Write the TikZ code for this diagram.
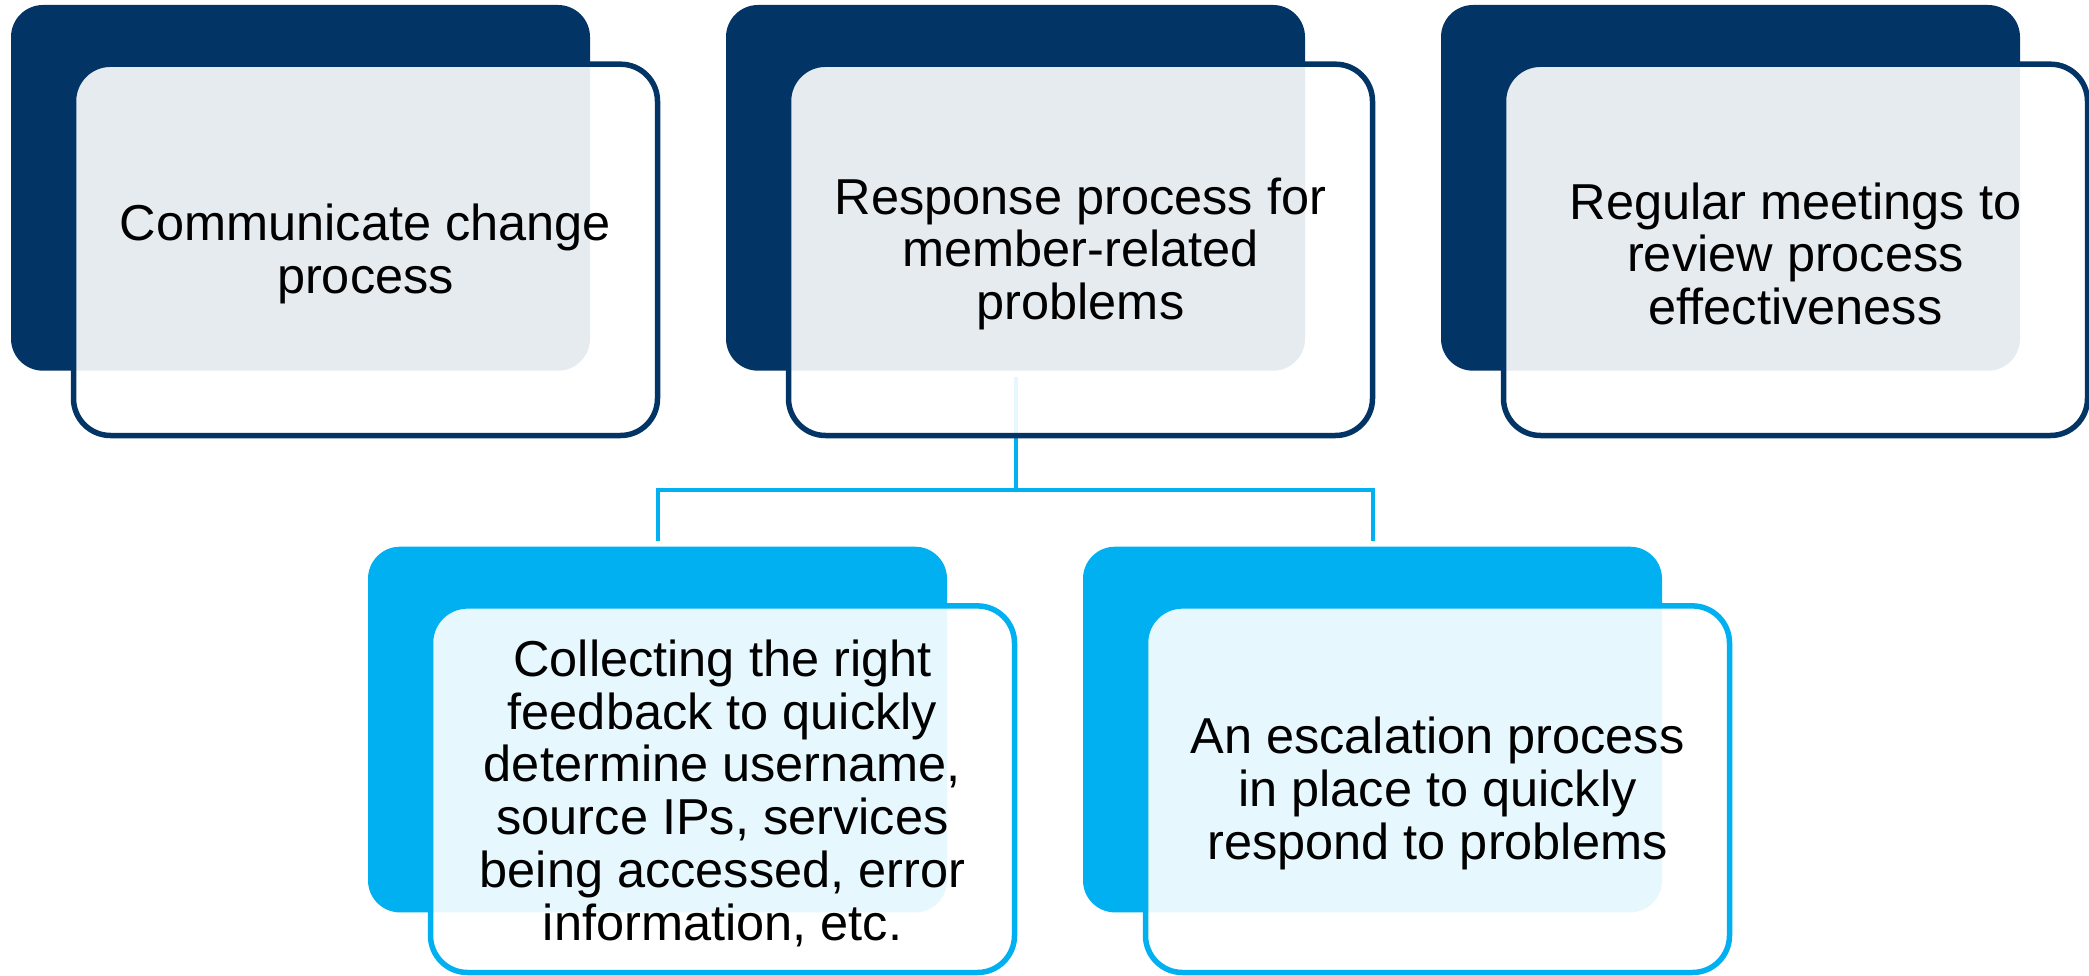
\documentclass[tikz,border=0pt]{standalone}
\usepackage{fontspec}
\setmainfont{Liberation Sans}
\definecolor{navy}{RGB}{3,52,102}
\definecolor{sky}{RGB}{0,176,240}
\tikzset{
  backbox/.style={rectangle, rounded corners=32pt, minimum width=579pt, minimum height=365.7pt,
    anchor=north west, outer sep=0pt, inner sep=0pt, draw=none},
  backnavy/.style={backbox, fill=navy},
  backsky/.style={backbox, fill=sky},
  frontbox/.style={rectangle, rounded corners=37pt, minimum width=584pt, minimum height=371.3pt,
    anchor=north west, outer sep=0pt, inner sep=0pt, line width=5.5pt,
    fill=white, fill opacity=0.9},
  frontnavy/.style={frontbox, draw=navy},
  frontsky/.style={frontbox, draw=sky},
  txt/.style={align=center, inner sep=0pt, text=black,
    font=\fontsize{50.5}{52.8}\selectfont},
  conn/.style={draw=sky, line width=4pt, shorten <=6pt, shorten >=5.7pt}
}
\begin{document}
\begin{tikzpicture}[x=1pt,y=-1pt]
\useasboundingbox (0,0) rectangle (2089,976);
% back boxes
\node[backnavy] (b1) at (11,5) {};
\node[backnavy] (b2) at (726,5) {};
\node[backnavy] (b3) at (1441,5) {};
\node[backsky] (b4) at (368,546.7) {};
\node[backsky] (b5) at (1083,546.7) {};
% connectors
\draw[conn] (b2.south) -- ++(0,119) -| (b4.north);
\draw[conn] (b2.south) -- ++(0,119) -| (b5.north);
% front boxes
\node[frontnavy] (f1) at (73.5,64.2) {};
\node[frontnavy] (f2) at (788.5,64.2) {};
\node[frontnavy] (f3) at (1503.5,64.2) {};
\node[frontsky, minimum height=366.6pt] (f4) at (430.5,605.9) {};
\node[frontsky, minimum height=366.6pt] (f5) at (1145.5,605.9) {};
% texts
\node[txt] (t1) at ([yshift=-4pt]f1.center) {Communicate change\\process};
\node[txt] (t2) at ([yshift=-4pt]f2.center) {Response process for\\member-related\\problems};
\node[txt] (t3) at ([yshift=-4pt]f3.center) {Regular meetings to\\review process\\effectiveness};
\node[txt] (t4) at ([yshift=-4pt]f4.center) {Collecting the right\\feedback to quickly\\determine username,\\source IPs, services\\being accessed, error\\information, etc.};
\node[txt] (t5) at ([yshift=-4pt]f5.center) {An escalation process\\in place to quickly\\respond to problems};
\end{tikzpicture}
\end{document}
